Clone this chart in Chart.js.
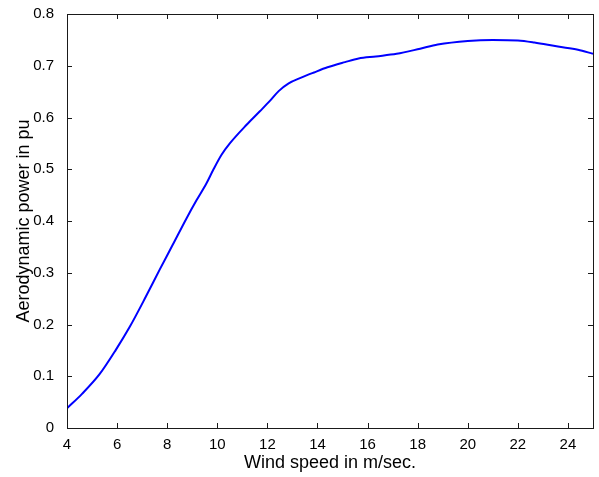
<!DOCTYPE html>
<html lang="en">
<head>
  <meta charset="UTF-8" />
  <title>Aerodynamic power vs wind speed</title>
  <script src="https://cdn.jsdelivr.net/npm/chart.js"></script>
  <style>
    html, body {
      margin: 0;
      padding: 0;
      background: #ffffff;
    }
    #wrap {
      width: 599px;
      height: 477px;
      position: relative;
    }
  </style>
</head>
<body>
<div id="wrap">
  <canvas id="powerChart"></canvas>
</div>

<script>
// values
const windSpeed = [4.0, 4.6, 5.3, 5.95, 6.5, 7.15, 7.7, 8.2, 8.77, 9.17, 9.57, 9.83, 10.17, 10.5, 11.17, 11.7,
  12.1, 12.45, 12.85, 13.3, 13.86, 14.4, 15.1, 15.64, 16.33, 17.16, 18.1, 18.8, 20.0, 21.0, 22.0,
  22.66, 23.6, 24.4, 25.0];
const aeroPower = [0.038, 0.066, 0.104, 0.151, 0.195, 0.254, 0.306, 0.352, 0.405, 0.440, 0.473, 0.498, 0.528, 0.550, 0.586, 0.612,
  0.632, 0.651, 0.666, 0.676, 0.687, 0.697, 0.707, 0.714, 0.718, 0.723, 0.733, 0.741, 0.748, 0.750, 0.749,
  0.745, 0.737, 0.731, 0.723];

const xTicks = [4, 6, 8, 10, 12, 14, 16, 18, 20, 22, 24];
const yTicks = [0, 0.1, 0.2, 0.3, 0.4, 0.5, 0.6, 0.7, 0.8];

const axisColor = '#1a1a1a';
const tickFont = { family: "'Liberation Sans', Arial, sans-serif", size: 15 };
const titleFont = { family: "'Liberation Sans', Arial, sans-serif", size: 18 };

// MATLAB-like box with inward ticks on all four sides
const boxPlugin = {
  id: 'boxTicks',
  afterDraw(chart) {
    const { ctx, chartArea: a, scales } = chart;
    const len = 5;
    ctx.save();
    ctx.strokeStyle = axisColor;
    ctx.lineWidth = 1;
    ctx.strokeRect(Math.round(a.left) + 0.5, Math.round(a.top) + 0.5,
      Math.round(a.right - a.left), Math.round(a.bottom - a.top));
    ctx.beginPath();
    scales.x.ticks.forEach(t => {
      const px = Math.round(scales.x.getPixelForValue(t.value)) + 0.5;
      ctx.moveTo(px, a.bottom); ctx.lineTo(px, a.bottom - len);
      ctx.moveTo(px, a.top); ctx.lineTo(px, a.top + len);
    });
    scales.y.ticks.forEach(t => {
      const py = Math.round(scales.y.getPixelForValue(t.value)) + 0.5;
      ctx.moveTo(a.left, py); ctx.lineTo(a.left + len, py);
      ctx.moveTo(a.right, py); ctx.lineTo(a.right - len, py);
    });
    ctx.stroke();
    ctx.restore();
  }
};

const ctx = document.getElementById('powerChart').getContext('2d');
new Chart(ctx, {
  type: 'line',
  data: {
    datasets: [{
      data: windSpeed.map((v, i) => ({ x: v, y: aeroPower[i] })),
      borderColor: '#0000ff',
      borderWidth: 2,
      pointRadius: 0,
      fill: false,
      cubicInterpolationMode: 'monotone'
    }]
  },
  options: {
    responsive: true,
    maintainAspectRatio: false,
    animation: false,
    layout: { padding: { top: 14, right: 6, left: 0, bottom: 0 } },
    plugins: {
      legend: { display: false },
      tooltip: { enabled: false }
    },
    scales: {
      x: {
        type: 'linear',
        min: 4,
        max: 25,
        grid: { display: false },
        border: { display: false },
        afterBuildTicks: s => { s.ticks = xTicks.map(v => ({ value: v })); },
        afterFit: s => { s.height = 49; },
        ticks: { color: '#000', font: tickFont, padding: 0, maxRotation: 0 },
        title: {
          display: true,
          text: 'Wind speed in m/sec.',
          color: '#000',
          font: titleFont,
          padding: { top: 0, bottom: 3 }
        }
      },
      y: {
        min: 0,
        max: 0.8,
        grid: { display: false },
        border: { display: false },
        afterBuildTicks: s => { s.ticks = yTicks.map(v => ({ value: v })); },
        afterFit: s => { s.width = 67; },
        ticks: { color: '#000', font: tickFont, padding: 5 },
        title: {
          display: true,
          text: 'Aerodynamic power in pu',
          color: '#000',
          font: titleFont,
          padding: { top: 13, bottom: 0 }
        }
      }
    }
  },
  plugins: [boxPlugin]
});
</script>
</body>
</html>
